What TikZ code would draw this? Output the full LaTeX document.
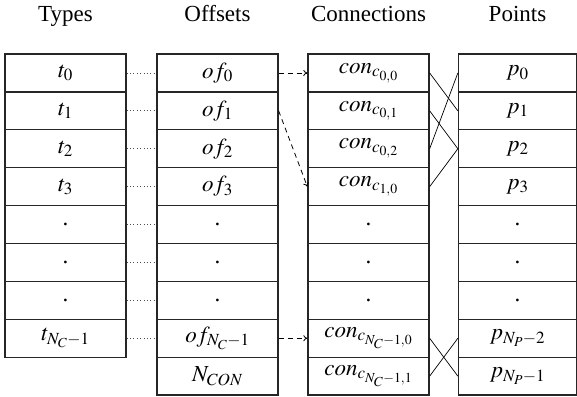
\documentclass[tikz,border=0pt]{standalone}
\usepackage{mathptmx}
\usepackage{fontspec}
\setmainfont{Liberation Serif}
\usetikzlibrary{arrows.meta}
\begin{document}
\begin{tikzpicture}[x=1pt,y=-1pt,
  cell/.style={draw=black!85,line width=1.3pt,minimum width=121pt,minimum height=37.9pt,inner sep=0pt,font=\fontsize{23}{27}\selectfont},
  head/.style={anchor=base,font=\fontsize{23}{27}\selectfont},
  dotlink/.style={draw=black!70,line width=0.8pt,dash pattern=on 0.8pt off 2.6pt},
  dashlink/.style={draw=black,line width=0.8pt,dash pattern=on 5pt off 4pt,-{To[length=4pt,width=6pt]}},
  cross/.style={draw=black,line width=0.7pt}]
\useasboundingbox (0,0) rectangle (577,396);
\def\rh{37.9}
% headers
\node[head] (hT) at (65.5,22) {Types};
\node[head] (hO) at (217.5,22) {Offsets};
\node[head] (hC) at (368.5,22) {Connections};
\node[head] (hP) at (517.5,22) {Points};
% Types
\foreach \i/\txt in {0/{$t_0$},1/{$t_1$},2/{$t_2$},3/{$t_3$},4/{.},5/{.},6/{.},7/{$t_{N_C-1}$}}
  \node[cell] (t\i) at (65.5,{54+(\i+0.5)*\rh}) {\txt};
% Offsets
\foreach \i/\txt in {0/{$of_0$},1/{$of_1$},2/{$of_2$},3/{$of_3$},4/{.},5/{.},6/{.},7/{$of_{N_C-1}$},8/{$N_{CON}$}}
  \node[cell] (o\i) at (217.5,{54+(\i+0.5)*\rh}) {\txt};
% Connections
\foreach \i/\txt in {0/{$con_{c_{0,0}}$},1/{$con_{c_{0,1}}$},2/{$con_{c_{0,2}}$},3/{$con_{c_{1,0}}$},4/{.},5/{.},6/{.},7/{$con_{c_{N_C-1,0}}$},8/{$con_{c_{N_C-1,1}}$}}
  \node[cell] (c\i) at (368.5,{54+(\i+0.5)*\rh}) {\txt};
% Points
\foreach \i/\txt in {0/{$p_0$},1/{$p_1$},2/{$p_2$},3/{$p_3$},4/{.},5/{.},6/{.},7/{$p_{N_P-2}$},8/{$p_{N_P-1}$}}
  \node[cell,minimum width=118pt] (p\i) at (517.5,{54+(\i+0.5)*\rh}) {\txt};
% dotted links
\foreach \i in {0,...,7}
  \draw[dotlink] (t\i.east) -- (o\i.west);
% dashed arrows
\draw[dashlink] (o0.east) -- (c0.west);
\draw[dashlink] (o1.east) -- (c3.west);
\draw[dashlink] (o7.east) -- (c7.west);
% crossings
\draw[cross] (c0.east) -- (p1.west);
\draw[cross] (c1.east) -- (p2.west);
\draw[cross] (c2.east) -- (p0.west);
\draw[cross] (c3.east) -- (p2.west);
\draw[cross] (c7.east) -- (p8.west);
\draw[cross] (c8.east) -- (p7.west);
\end{tikzpicture}
\end{document}
